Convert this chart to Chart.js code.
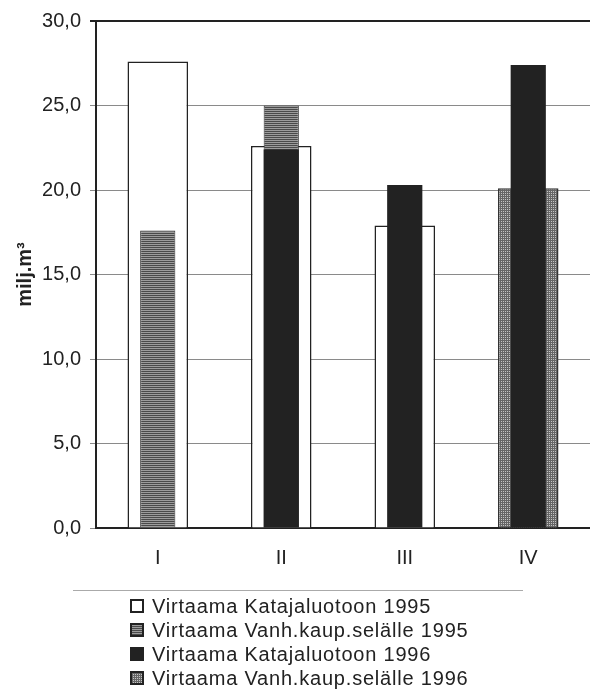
<!DOCTYPE html>
<html>
<head>
<meta charset="utf-8">
<script src="https://cdn.jsdelivr.net/npm/chart.js@4"></script>
<style>
  body { margin: 0; background: #fff; overflow: hidden; font-family: "Liberation Sans", Arial, sans-serif; }
  #wrap { position: relative; width: 590px; height: 692px; }
  #chart { position: absolute; left: 0; top: 0; }
  #sep { position: absolute; left: 73px; top: 590px; width: 450px; border-top: 1px solid #aaa; }
  #legend { position: absolute; left: 130px; top: 594px; font-size: 20px; color: #222; letter-spacing: 0.8px; }
  .row { display: flex; align-items: center; height: 24px; }
  .row canvas { margin-right: 8px; }
</style>
</head>
<body>
<div id="wrap">
  <canvas id="chart" width="590" height="588"></canvas>
  <div id="sep"></div>
  <div id="legend"></div>
</div>
<script>
// Quarters
const quarters = ['I', 'II', 'III', 'IV'];

// Flow volumes, million m3
const kataja1995 = [27.6, 22.6, 17.9, null];
const vanh1995 = [17.6, 25.0, null, null];
const kataja1996 = [null, 22.4, 20.3, 27.4];
const vanh1996 = [null, null, null, 20.1];

const seriesLabels = [
  'Virtaama Katajaluotoon 1995',
  'Virtaama Vanh.kaup.selälle 1995',
  'Virtaama Katajaluotoon 1996',
  'Virtaama Vanh.kaup.selälle 1996'
];

Chart.defaults.font.family = '"Liberation Sans", Arial, sans-serif';

// fill patterns
function stripePattern() {
  const c = document.createElement('canvas');
  c.width = 2; c.height = 2;
  const g = c.getContext('2d');
  g.fillStyle = '#9c9c9c'; g.fillRect(0, 0, 2, 1);
  g.fillStyle = '#4a4a4a'; g.fillRect(0, 1, 2, 1);
  return g.createPattern(c, 'repeat');
}
function gridPattern() {
  const c = document.createElement('canvas');
  c.width = 2; c.height = 2;
  const g = c.getContext('2d');
  g.fillStyle = '#c4c4c4'; g.fillRect(0, 0, 2, 2);
  g.fillStyle = '#666'; g.fillRect(0, 0, 2, 1); g.fillRect(0, 0, 1, 2);
  return g.createPattern(c, 'repeat');
}

const fills = ['#ffffff', stripePattern(), '#222222', gridPattern()];
const borders = ['#222', '#333', '#222', '#333'];

const ctx = document.getElementById('chart').getContext('2d');
new Chart(ctx, {
  type: 'bar',
  data: {
    labels: quarters,
    datasets: [
      { label: seriesLabels[0], data: kataja1995, backgroundColor: fills[0], borderColor: borders[0], borderWidth: 1.5, barPercentage: 0.49, order: 4 },
      { label: seriesLabels[1], data: vanh1995, backgroundColor: fills[1], borderColor: borders[1], borderWidth: 1, barPercentage: 0.285, order: 2 },
      { label: seriesLabels[2], data: kataja1996, backgroundColor: fills[2], borderColor: borders[2], borderWidth: 0, barPercentage: 0.285, order: 1 },
      { label: seriesLabels[3], data: vanh1996, backgroundColor: fills[3], borderColor: borders[3], borderWidth: 1.5, barPercentage: 0.49, order: 3 }
    ]
  },
  options: {
    responsive: false,
    animation: false,
    layout: { padding: { top: 19, right: 0, bottom: 0, left: 0 } },
    datasets: { bar: { grouped: false, categoryPercentage: 1 } },
    plugins: { legend: { display: false }, tooltip: { enabled: false } },
    scales: {
      x: {
        grid: { drawOnChartArea: false, drawTicks: false },
        border: { color: '#222', width: 2 },
        ticks: { color: '#222', font: { size: 20 }, padding: 18 }
      },
      y: {
        min: 0,
        max: 30,
        ticks: {
          stepSize: 5,
          color: '#222',
          font: { size: 20 },
          padding: 9,
          callback: v => v.toFixed(1).replace('.', ',')
        },
        grid: {
          color: c => c.tick.value === 30 ? '#222' : '#8a8a8a',
          lineWidth: c => c.tick.value === 30 ? 2 : 1,
          tickLength: 6
        },
        border: { color: '#222', width: 2 },
        title: {
          display: true,
          text: 'milj.m³',
          color: '#222',
          font: { size: 20, weight: 'bold' },
          padding: { top: 13, bottom: 0 }
        },
        afterFit: s => { s.width = 96; }
      }
    }
  }
});

// legend
const legend = document.getElementById('legend');
seriesLabels.forEach((lab, i) => {
  const row = document.createElement('div');
  row.className = 'row';
  const sw = document.createElement('canvas');
  sw.width = 14; sw.height = 14;
  const g = sw.getContext('2d');
  g.fillStyle = fills[i];
  g.fillRect(0, 0, 14, 14);
  g.strokeStyle = '#222';
  g.lineWidth = 2;
  g.strokeRect(1, 1, 12, 12);
  row.appendChild(sw);
  const t = document.createElement('span');
  t.textContent = lab;
  row.appendChild(t);
  legend.appendChild(row);
});
</script>
</body>
</html>
